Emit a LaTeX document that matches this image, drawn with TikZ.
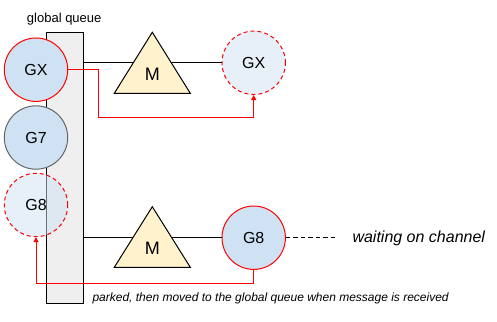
\documentclass[tikz,border=0pt]{standalone}
\usepackage{fontspec}
\setmainfont{Liberation Sans}
\usetikzlibrary{arrows.meta}
\definecolor{gblue}{HTML}{CFE2F3}
\definecolor{myellow}{HTML}{FFF2CC}
\definecolor{qgray}{HTML}{EFEFEF}
\definecolor{gred}{HTML}{FF0000}
\definecolor{ggray}{HTML}{666666}
\tikzset{
  gcirc/.style={circle, minimum size=63.4pt, inner sep=0pt, fill=gblue, draw=gred, line width=1pt, font=\fontsize{16}{16}\selectfont},
  g7circ/.style={gcirc, draw=ggray},
  ghost/.style={gcirc, fill opacity=0.5, text opacity=1, dash pattern=on 4pt off 3pt},
  queuebox/.style={rectangle, draw=black, fill=qgray, line width=1pt, minimum width=37pt, minimum height=271pt, inner sep=0pt},
  mtri/.style={draw=black, fill=myellow, line width=1pt, line join=miter},
  mlabel/.style={inner sep=0pt, font=\fontsize{18}{18}\selectfont},
  link/.style={draw=black, line width=1pt},
  redline/.style={draw=gred, line width=1pt, -{Triangle[length=5pt,width=5pt]}},
  waitline/.style={draw=black, line width=1pt, dash pattern=on 4.5pt off 3pt},
}
\begin{document}
\begin{tikzpicture}[x=1pt,y=-1pt]
\useasboundingbox (0,0) rectangle (497,321);
% global queue
\node[queuebox] (q) at (64.8,167.7) {};
\node[anchor=base, inner sep=0pt, font=\fontsize{13}{13}\selectfont] (ql) at (64.2,22.3) {global queue};
% goroutines in the queue column
\node[gcirc] (gx) at (36,69.7) {GX};
\node[g7circ] (g7) at (36,137.5) {G7};
\node[ghost] (g8d) at (36,205) {G8};
% top row
\node[ghost] (gxr) at (253.7,62.8) {GX};
\draw[link] (q.east |- gxr) -- (gxr.west);
\filldraw[mtri] (152.3,32.3) -- (190.3,93.3) -- (114.3,93.3) -- cycle;
\node[mlabel] (m1) at (152.3,74) {M};
\coordinate (c1) at (98.3,117.3);
\draw[redline] (gx.east) -| (c1) -| (gxr.south);
% bottom row
\node[gcirc] (g8) at (253.7,237.7) {G8};
\draw[link] (q.east |- g8) -- (g8.west);
\filldraw[mtri] (152.3,206.7) -- (190.3,267.3) -- (114.3,267.3) -- cycle;
\node[mlabel] (m2) at (152.3,248) {M};
\draw[redline] (g8.south) -- ++(0,13.3) -| (g8d.south);
\coordinate (wend) at (338.3,237.7);
\draw[waitline] (g8.east) -- (wend);
\node[anchor=base west, inner sep=0pt, font=\fontsize{16}{16}\selectfont\itshape] (wait) at (352.3,242.7) {waiting on channel};
\node[anchor=base west, inner sep=0pt, font=\fontsize{12}{12}\selectfont\itshape] (cap) at (92.3,301.7) {parked, then moved to the global queue when message is received};
\end{tikzpicture}
\end{document}
